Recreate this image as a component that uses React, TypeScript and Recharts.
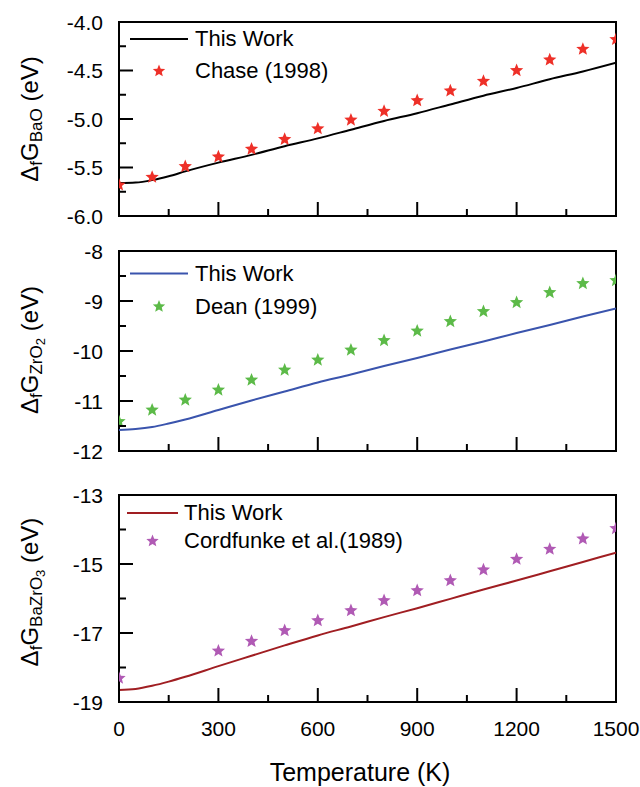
import React from 'react'
import { ComposedChart, Line, Scatter, XAxis, YAxis, ReferenceArea, Legend, Label } from 'recharts'

const FONT = '"Liberation Sans", Arial, sans-serif'

// temperature grid of the calculated curves (K)
const calcT = [0, 50, 100, 150, 200, 300, 400, 500, 600, 700, 800, 900, 1000, 1100, 1200, 1300, 1400, 1500]
const baoCalc = [-5.66, -5.655, -5.63, -5.59, -5.54, -5.45, -5.37, -5.28, -5.2, -5.11, -5.02, -4.94, -4.85, -4.76, -4.68, -4.59, -4.51, -4.42]
const zro2Calc = [-11.58, -11.56, -11.52, -11.45, -11.37, -11.18, -10.99, -10.81, -10.63, -10.47, -10.3, -10.14, -9.97, -9.81, -9.64, -9.48, -9.31, -9.15]
const bazro3Calc = [-18.65, -18.62, -18.53, -18.41, -18.27, -17.96, -17.66, -17.36, -17.07, -16.81, -16.54, -16.28, -16.01, -15.74, -15.48, -15.21, -14.94, -14.67]

// reference data
const refT = [0, 100, 200, 300, 400, 500, 600, 700, 800, 900, 1000, 1100, 1200, 1300, 1400, 1500]
const chase = [-5.68, -5.6, -5.49, -5.39, -5.31, -5.21, -5.1, -5.01, -4.92, -4.81, -4.71, -4.61, -4.5, -4.39, -4.28, -4.18]
const dean = [-11.41, -11.18, -10.98, -10.78, -10.58, -10.38, -10.18, -9.98, -9.79, -9.6, -9.41, -9.21, -9.03, -8.83, -8.65, -8.59]
const cordT = [0, 300, 400, 500, 600, 700, 800, 900, 1000, 1100, 1200, 1300, 1400, 1500]
const cordfunke = [-18.31, -17.52, -17.24, -16.93, -16.64, -16.35, -16.06, -15.77, -15.48, -15.17, -14.86, -14.57, -14.27, -13.97]

const xTicks = [0, 150, 300, 450, 600, 750, 900, 1050, 1200, 1350, 1500]
const baoTicks = [-6, -5.75, -5.5, -5.25, -5, -4.75, -4.5, -4.25, -4]
const zro2Ticks = [-12, -11.5, -11, -10.5, -10, -9.5, -9, -8.5, -8]
const bazro3Ticks = [-19, -18, -17, -16, -15, -14, -13]

const zip = (ts: number[], vs: number[]) => ts.map((t, i) => ({ t, v: vs[i] }))

function starPath(cx: number, cy: number, R: number, r: number) {
  let d = ''
  for (let i = 0; i < 10; i++) {
    const rad = i % 2 === 0 ? R : r
    const a = -Math.PI / 2 + (i * Math.PI) / 5
    d += (i ? 'L' : 'M') + (cx + rad * Math.cos(a)).toFixed(2) + ',' + (cy + rad * Math.sin(a)).toFixed(2)
  }
  return d + 'Z'
}

const AXIS_H = 20

interface PanelProps {
  top: number
  height: number
  marginTop: number
  marginBottom: number
  domain: [number, number]
  yTicks: number[]
  isMajor: (v: number) => boolean
  fmt: (v: number) => string
  calc: { t: number; v: number }[]
  ref: { t: number; v: number }[]
  lineColor: string
  starColor: string
  refName: string
  sub: string
  subsub?: string
  labelY: number
  legendTop: number
  legendLeft: number
  rowH: number
  symW: number
  lineLen: number
  xLabels?: boolean
}

function Panel(p: PanelProps) {
  const yTick = (props: any) => {
    const { x, y, payload } = props
    const major = p.isMajor(payload.value)
    return (
      <g>
        <line x1={x} x2={x + (major ? 14 : 7)} y1={y} y2={y} stroke="#000" strokeWidth={2} />
        {major && (
          <text x={x - 16} y={y} textAnchor="end" dominantBaseline="central" fontSize={21} fill="#000" fontFamily={FONT}>
            {p.fmt(payload.value)}
          </text>
        )}
      </g>
    )
  }
  const xTick = (props: any) => {
    const { x, y, payload } = props
    const major = payload.value % 300 === 0
    return (
      <g>
        <line x1={x} x2={x} y1={y} y2={y - (major ? 14 : 7)} stroke="#000" strokeWidth={2} />
        {p.xLabels && major && (
          <text x={x} y={y + 26} textAnchor="middle" dominantBaseline="central" fontSize={21} fill="#000" fontFamily={FONT}>
            {payload.value}
          </text>
        )}
      </g>
    )
  }
  const star = (props: any) => <path d={starPath(props.cx, props.cy, 7, 3.1)} fill={p.starColor} />

  const legend = () => (
    <div style={{ fontFamily: FONT, fontSize: 22, color: '#000' }}>
      <div style={{ display: 'flex', alignItems: 'center', height: p.rowH }}>
        <svg width={p.symW} height={p.rowH}>
          <line x1={3} x2={3 + p.lineLen} y1={p.rowH / 2} y2={p.rowH / 2} stroke={p.lineColor} strokeWidth={2} />
        </svg>
        <span>This Work</span>
      </div>
      <div style={{ display: 'flex', alignItems: 'center', height: p.rowH }}>
        <svg width={p.symW} height={p.rowH}>
          <path d={starPath(3 + p.lineLen / 2, p.rowH / 2, 6.5, 2.9)} fill={p.starColor} />
        </svg>
        <span>{p.refName}</span>
      </div>
    </div>
  )

  return (
    <div style={{ position: 'absolute', left: 0, top: p.top }}>
      <ComposedChart width={640} height={p.height} margin={{ top: p.marginTop, right: 24, bottom: p.marginBottom - AXIS_H, left: 0 }}>
        <XAxis
          type="number"
          dataKey="t"
          domain={[0, 1500]}
          ticks={xTicks}
          interval={0}
          allowDataOverflow
          height={AXIS_H}
          tickSize={0}
          tickMargin={0}
          axisLine={false}
          tickLine={false}
          tick={xTick}
        >
          {p.xLabels && (
            <Label
              content={() => (
                <text x={360} y={p.height - 15} textAnchor="middle" dominantBaseline="central" fontSize={25} fill="#000" fontFamily={FONT}>
                  Temperature (K)
                </text>
              )}
            />
          )}
        </XAxis>
        <YAxis
          type="number"
          dataKey="v"
          domain={p.domain}
          ticks={p.yTicks}
          interval={0}
          allowDataOverflow
          width={119}
          tickSize={0}
          tickMargin={0}
          axisLine={false}
          tickLine={false}
          tick={yTick}
        >
          <Label
            content={() => {
              const cx = 29
              const cy = p.labelY
              return (
                <text transform={`rotate(-90 ${cx} ${cy})`} x={cx} y={cy} textAnchor="middle" dominantBaseline="central" fontSize={24} fill="#000" fontFamily={FONT}>
                  Δ<tspan dy={7} fontSize={17}>f</tspan>
                  <tspan dy={-7}>G</tspan>
                  <tspan dy={7} fontSize={17}>{p.sub}</tspan>
                  {p.subsub && <tspan dy={4} fontSize={13}>{p.subsub}</tspan>}
                  <tspan dy={p.subsub ? -11 : -7}> (eV)</tspan>
                </text>
              )
            }}
          />
        </YAxis>
        <ReferenceArea x1={0} x2={1500} y1={p.domain[0]} y2={p.domain[1]} fill="none" stroke="#000" strokeWidth={2} ifOverflow="visible" />
        <Line data={p.calc} dataKey="v" type="monotone" stroke={p.lineColor} strokeWidth={2} dot={false} isAnimationActive={false} />
        <Scatter data={p.ref} dataKey="v" shape={star} isAnimationActive={false} />
        <Legend
          layout="vertical"
          align="center"
          verticalAlign="middle"
          wrapperStyle={{ top: p.legendTop, left: p.legendLeft, width: 'auto' }}
          content={legend}
        />
      </ComposedChart>
    </div>
  )
}

export default function App() {
  return (
    <div style={{ position: 'absolute', left: 0, top: 0, width: 640, height: 787, background: '#fff', fontFamily: FONT }}>
      <Panel
        top={0}
        height={240}
        marginTop={22}
        marginBottom={24}
        domain={[-6, -4]}
        yTicks={baoTicks}
        isMajor={(v) => Math.abs(v * 2 - Math.round(v * 2)) < 1e-6}
        fmt={(v) => v.toFixed(1)}
        calc={zip(calcT, baoCalc)}
        ref={zip(refT, chase)}
        lineColor="#000000"
        starColor="#ee3028"
        refName="Chase (1998)"
        sub="BaO"
        labelY={119}
        legendTop={23}
        legendLeft={127}
        rowH={32}
        symW={68}
        lineLen={58}
      />
      <Panel
        top={240}
        height={240}
        marginTop={11}
        marginBottom={29}
        domain={[-12, -8]}
        yTicks={zro2Ticks}
        isMajor={(v) => Number.isInteger(v)}
        fmt={(v) => String(v)}
        calc={zip(calcT, zro2Calc)}
        ref={zip(refT, dean)}
        lineColor="#3a54ad"
        starColor="#5cba48"
        refName="Dean (1999)"
        sub="ZrO"
        subsub="2"
        labelY={110}
        legendTop={17}
        legendLeft={127}
        rowH={33}
        symW={68}
        lineLen={58}
      />
      <Panel
        top={480}
        height={307}
        marginTop={15}
        marginBottom={85}
        domain={[-19, -13]}
        yTicks={bazro3Ticks}
        isMajor={(v) => Math.abs(v) % 2 === 1}
        fmt={(v) => String(v)}
        calc={zip(calcT, bazro3Calc)}
        ref={zip(cordT, cordfunke)}
        lineColor="#a01e22"
        starColor="#b05ab4"
        refName="Cordfunke et al.(1989)"
        sub="BaZrO"
        subsub="3"
        labelY={112}
        legendTop={19}
        legendLeft={124}
        rowH={28}
        symW={60}
        lineLen={51}
        xLabels
      />
    </div>
  )
}
